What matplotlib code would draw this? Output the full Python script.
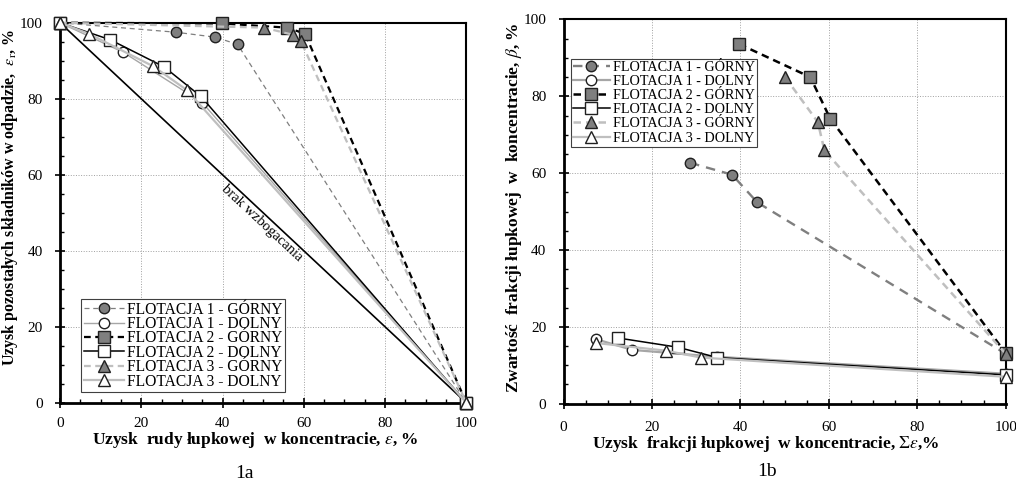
import matplotlib
matplotlib.use('Agg')
import matplotlib.pyplot as plt
from matplotlib.ticker import MultipleLocator

plt.rcParams['font.family'] = ['Liberation Serif', 'DejaVu Serif']
plt.rcParams['mathtext.fontset'] = 'stix'

# --- dane: wykres 1a (uzysk w odpadzie vs uzysk w koncentracie) ---
f1g_x = [0, 28.5, 38.2, 43.7, 100]
f1g_y = [100, 97.5, 96.2, 94.3, 0]
f1d_x = [0, 15.6, 35.0, 100]
f1d_y = [100, 92.2, 79.0, 0]
f2g_x = [0, 39.9, 55.9, 60.3, 100]
f2g_y = [100, 99.8, 98.7, 97.1, 0]
f2d_x = [0, 12.4, 25.6, 34.7, 100]
f2d_y = [100, 95.5, 88.4, 80.6, 0]
f3g_x = [0, 50.2, 57.4, 59.2, 100]
f3g_y = [100, 98.7, 96.8, 95.3, 0]
f3d_x = [0, 7.1, 23.0, 31.2, 100]
f3d_y = [100, 97.1, 88.5, 82.3, 0]
brak_x = [0, 100]
brak_y = [100, 0]

# --- dane: wykres 1b (zawartosc frakcji lupkowej) ---
b1g_x = [28.6, 38.1, 43.8, 100]
b1g_y = [62.7, 59.6, 52.4, 13.0]
b1d_x = [7.3, 15.5, 34.8, 100]
b1d_y = [16.8, 14.0, 12.2, 7.8]
b2g_x = [39.7, 55.8, 60.3, 100]
b2g_y = [93.6, 85.0, 74.2, 13.2]
b2d_x = [12.3, 25.8, 34.8, 100]
b2d_y = [17.1, 14.7, 12.0, 7.5]
b3g_x = [50.1, 57.5, 59.0, 100]
b3g_y = [85.0, 73.3, 65.9, 13.0]
b3d_x = [7.3, 23.1, 31.1, 100]
b3d_y = [15.8, 13.8, 12.0, 7.0]

labels = ['FLOTACJA 1 - GÓRNY', 'FLOTACJA 1 - DOLNY', 'FLOTACJA 2 - GÓRNY',
          'FLOTACJA 2 - DOLNY', 'FLOTACJA 3 - GÓRNY', 'FLOTACJA 3 - DOLNY']

dark = '#7f7f7f'
styles = [
    dict(color='#7f7f7f', ls=(0, (4, 3)), lw=1.0, marker='o', mfc=dark, ms=7.5),
    dict(color='#a6a6a6', ls='-', lw=1.0, marker='o', mfc='white', ms=7.5),
    dict(color='black', ls=(0, (3, 2)), lw=1.8, marker='s', mfc=dark, ms=8),
    dict(color='black', ls='-', lw=1.1, marker='s', mfc='white', ms=8.5),
    dict(color='#bfbfbf', ls=(0, (3, 2)), lw=1.8, marker='^', mfc=dark, ms=8),
    dict(color='#bfbfbf', ls='-', lw=1.6, marker='^', mfc='white', ms=8.5),
]
# na wykresie 1b linie serii sa grubsze
lw_1b = [1.7, 1.6, 1.8, 1.1, 1.8, 1.6]

fig = plt.figure(figsize=(10.16, 4.83), dpi=100)
ax1 = fig.add_axes([0.059, 0.166, 0.400, 0.787])
ax2 = fig.add_axes([0.5548, 0.1642, 0.435, 0.7955])


def style_axes(ax, xpad):
    ax.set_xlim(0, 100)
    ax.set_ylim(0, 100)
    ax.xaxis.set_major_locator(MultipleLocator(20))
    ax.yaxis.set_major_locator(MultipleLocator(20))
    ax.xaxis.set_minor_locator(MultipleLocator(5))
    ax.yaxis.set_minor_locator(MultipleLocator(5))
    ax.tick_params(which='major', direction='inout', length=7, width=1.2, labelsize=11)
    ax.tick_params(axis='x', which='major', pad=xpad)
    ax.tick_params(axis='y', which='major', pad=9)
    ax.tick_params(which='minor', direction='in', length=3, width=1.0)
    ax.grid(True, which='major', color='#a0a0a0', ls=':', lw=0.7)
    for s in ['left', 'bottom']:
        ax.spines[s].set_linewidth(2.0)
    for s in ['top', 'right']:
        ax.spines[s].set_linewidth(1.5)
    ax.set_axisbelow(True)


def make_legend(ax, size, spacing, **kw):
    leg = ax.legend(fontsize=size, frameon=True, fancybox=False, edgecolor='#404040',
                    framealpha=1, labelspacing=spacing, handlelength=2.6,
                    handletextpad=0.2, borderpad=0.15, borderaxespad=0.2, **kw)
    leg.get_frame().set_linewidth(0.8)
    return leg


series1 = [(f1g_x, f1g_y), (f1d_x, f1d_y), (f2g_x, f2g_y),
           (f2d_x, f2d_y), (f3g_x, f3g_y), (f3d_x, f3d_y)]
series2 = [(b1g_x, b1g_y), (b1d_x, b1d_y), (b2g_x, b2g_y),
           (b2d_x, b2d_y), (b3g_x, b3g_y), (b3d_x, b3d_y)]

# wykres 1a
style_axes(ax1, 7)
ax1.plot(brak_x, brak_y, color='black', lw=1.2, zorder=2)
for (x, y), st, lab in zip(series1, styles, labels):
    ax1.plot(x, y, color=st['color'], ls=st['ls'], lw=st['lw'] * (0.9 if st['ls'] != '-' else 1),
             marker=st['marker'], mfc=st['mfc'], mec='#202020', mew=1.0, ms=st['ms'],
             label=lab, clip_on=False, zorder=3)
ax1.text(49.8, 47.3, 'brak wzbogacania', rotation=-43, ha='center', va='center',
         fontsize=10.5, rotation_mode='anchor')
ax1.set_xlabel(r'Uzysk  rudy łupkowej  w koncentracie, $\varepsilon$, %',
               fontsize=12.5, fontweight='bold')
ax1.xaxis.set_label_coords(0.48, -0.072)
ax1.set_ylabel(r'Uzysk pozostałych składników w odpadzie,  $\varepsilon_{\mathrm{r}}$, %',
               fontsize=11.5, fontweight='bold')
ax1.yaxis.set_label_coords(-0.098, 0.54)
make_legend(ax1, 11.2, -0.1, loc='lower left', bbox_to_anchor=(0.045, 0.02))

# wykres 1b
style_axes(ax2, 9)
for (x, y), st, lw, lab in zip(series2, styles, lw_1b, labels):
    ax2.plot(x, y, color=st['color'], ls=st['ls'], lw=lw,
             marker=st['marker'], mfc=st['mfc'], mec='#202020', mew=1.0, ms=st['ms'],
             label=lab, clip_on=False, zorder=3)
ax2.set_xlabel(r'Uzysk  frakcji łupkowej  w koncentracie, $\Sigma\varepsilon$,%',
               fontsize=12.5, fontweight='bold')
ax2.xaxis.set_label_coords(0.458, -0.079)
ax2.set_ylabel(r'Zwartość  frakcji łupkowej  w  koncentracie, $\beta$, %',
               fontsize=12.5, fontweight='bold')
ax2.yaxis.set_label_coords(-0.09, 0.51)
make_legend(ax2, 10.2, 0.08, loc='upper left', bbox_to_anchor=(0.01, 0.905))

fig.text(0.241, 0.019, '1a', fontsize=14, ha='center', va='center')
fig.text(0.755, 0.023, '1b', fontsize=14, ha='center', va='center')

fig.savefig('out.png', dpi=100)
